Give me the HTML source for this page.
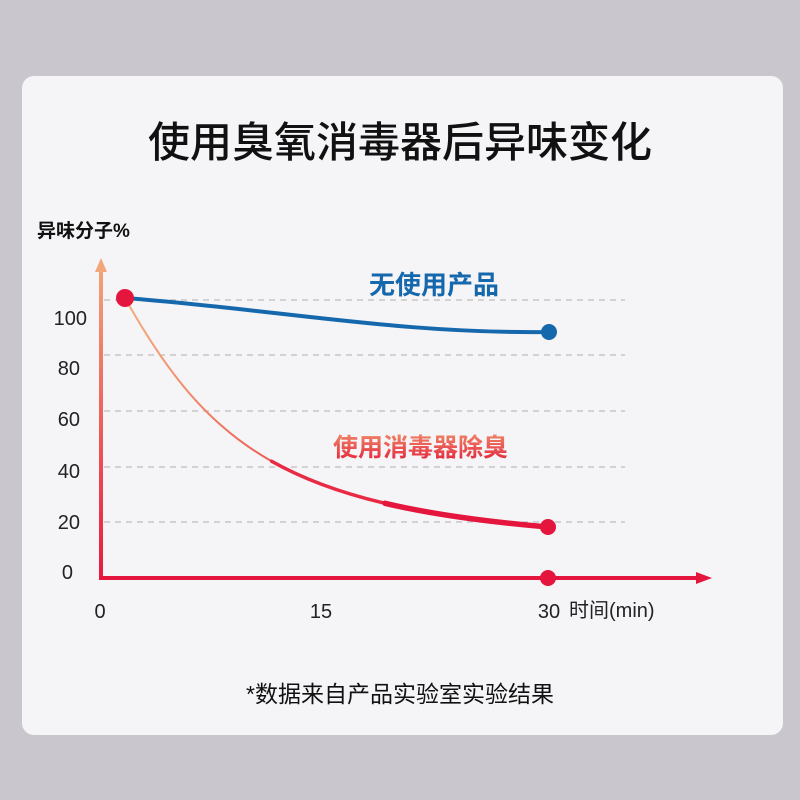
<!DOCTYPE html>
<html><head><meta charset="utf-8"><style>
html,body{margin:0;padding:0;width:800px;height:800px;background:#c9c7cd;overflow:hidden}
.card{position:absolute;left:22px;top:76px;width:761px;height:659px;background:#f5f4f6;border-radius:12px}
svg{position:absolute;left:0;top:0}
text{font-family:"Liberation Sans","Noto Sans CJK SC",sans-serif}
</style></head><body>
<div class="card"></div>
<svg width="800" height="800" viewBox="0 0 800 800">
<defs>
<linearGradient id="ya" x1="0" y1="260" x2="0" y2="580" gradientUnits="userSpaceOnUse">
<stop offset="0" stop-color="#f2a77a"/><stop offset="1" stop-color="#e8193f"/></linearGradient>
<linearGradient id="rc" x1="125" y1="0" x2="548" y2="0" gradientUnits="userSpaceOnUse">
<stop offset="0" stop-color="#f3b07e"/><stop offset="0.4" stop-color="#ea5050"/><stop offset="0.7" stop-color="#e5163d"/><stop offset="1" stop-color="#e5163d"/></linearGradient>
<linearGradient id="rt" x1="0" y1="432" x2="0" y2="460" gradientUnits="userSpaceOnUse">
<stop offset="0" stop-color="#f08a6a"/><stop offset="1" stop-color="#e52a40"/></linearGradient>
</defs>
<text x="400" y="157" font-size="42" font-weight="500" text-anchor="middle" fill="#111" style="font-family:'Noto Sans CJK SC',sans-serif">使用臭氧消毒器后异味变化</text>
<text x="37" y="237" font-size="19" font-weight="bold" fill="#111">异味分子%</text>
<g stroke="#bdbdbd" stroke-width="1.3" stroke-dasharray="6,5">
<line x1="104" y1="300" x2="625" y2="300"/><line x1="104" y1="355" x2="625" y2="355"/>
<line x1="104" y1="411" x2="625" y2="411"/><line x1="104" y1="467" x2="625" y2="467"/>
<line x1="104" y1="522" x2="625" y2="522"/></g>
<g font-size="20" fill="#222" text-anchor="end">
<text x="87" y="325">100</text><text x="80" y="375">80</text><text x="80" y="426">60</text>
<text x="80" y="478">40</text><text x="80" y="529">20</text><text x="73" y="579">0</text></g>
<g font-size="20" fill="#222" text-anchor="middle">
<text x="100" y="618">0</text><text x="321" y="618">15</text><text x="549" y="618">30</text></g>
<text x="569" y="617" font-size="20" fill="#222">时间(min)</text>
<rect x="99" y="270" width="4" height="310" fill="url(#ya)"/>
<polygon points="101,258 95,272 107,272" fill="#f2a77a"/>
<line x1="99" y1="578" x2="700" y2="578" stroke="#e5163d" stroke-width="4"/>
<polygon points="712,578 696,572 696,584" fill="#e5163d"/>
<path d="M125,298 C280,310 400,334 549,332" fill="none" stroke="#1668ad" stroke-width="4"/>
<path d="M125,298 C210,450 290,505 548,527" fill="none" stroke="url(#rc)" stroke-width="2" stroke-linecap="round"/>
<path d="M271.6,461.25 C334.5,496.75 419,516 548,527" fill="none" stroke="#e82a45" stroke-width="3.5" stroke-linecap="round"/>
<path d="M385,503.3 C430.1,513.95 483.5,521.5 548,527" fill="none" stroke="#e5163d" stroke-width="5.5" stroke-linecap="round"/>
<circle cx="549" cy="332" r="8" fill="#1668ad"/>
<circle cx="548" cy="527" r="8" fill="#e5163d"/>
<circle cx="548" cy="578" r="8" fill="#e5163d"/>
<circle cx="125" cy="298" r="9" fill="#e5163d"/>
<text x="369" y="294" font-size="26" font-weight="bold" fill="#1668ad">无使用产品</text>
<text x="333" y="456" font-size="25" font-weight="bold" fill="url(#rt)">使用消毒器除臭</text>
<text x="400" y="702" font-size="23" text-anchor="middle" fill="#111">*数据来自产品实验室实验结果</text>
</svg>
</body></html>
